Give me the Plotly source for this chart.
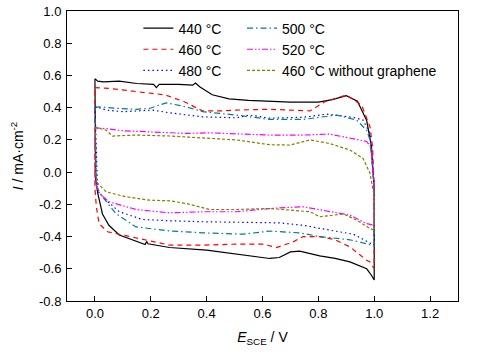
import plotly.graph_objects as go

# ---------------- data (E vs SCE / V, current density / mA cm^-2) ----------------
e_440 = [0.0, 0.01, 0.03, 0.087, 0.15, 0.21, 0.22, 0.23, 0.30, 0.35, 0.36, 0.375, 0.42, 0.48, 0.55, 0.625, 0.70, 0.80, 0.85, 0.90, 0.94, 0.973, 0.99, 1.0, 1.0,
         0.99, 0.973, 0.913, 0.86, 0.805, 0.733, 0.70, 0.66, 0.626, 0.53, 0.40, 0.267, 0.19, 0.185, 0.18, 0.087, 0.05, 0.027, 0.01, 0.003, 0.0]
i_440 = [0.58, 0.565, 0.56, 0.565, 0.55, 0.545, 0.525, 0.545, 0.545, 0.54, 0.553, 0.53, 0.48, 0.455, 0.445, 0.44, 0.435, 0.435, 0.45, 0.474, 0.44, 0.32, 0.16, -0.10, -0.67,
         -0.64, -0.60, -0.557, -0.535, -0.52, -0.49, -0.495, -0.53, -0.536, -0.515, -0.484, -0.468, -0.445, -0.43, -0.45, -0.39, -0.33, -0.26, -0.13, -0.05, 0.58]

e_460 = [0.0, 0.05, 0.147, 0.25, 0.32, 0.385, 0.45, 0.505, 0.626, 0.77, 0.823, 0.90, 0.955, 0.985, 0.994, 1.0, 1.0,
         0.985, 0.973, 0.913, 0.86, 0.805, 0.745, 0.71, 0.65, 0.60, 0.506, 0.386, 0.267, 0.147, 0.045, 0.015, 0.005, 0.0, 0.0]
i_460 = [0.525, 0.52, 0.50, 0.48, 0.437, 0.38, 0.38, 0.385, 0.39, 0.38, 0.437, 0.478, 0.416, 0.28, 0.157, -0.10, -0.60,
         -0.557, -0.547, -0.464, -0.42, -0.40, -0.40, -0.433, -0.468, -0.447, -0.447, -0.453, -0.453, -0.41, -0.37, -0.32, -0.215, -0.10, 0.525]

e_480 = [0.0, 0.04, 0.1, 0.207, 0.267, 0.386, 0.506, 0.554, 0.626, 0.745, 0.83, 0.924, 0.96, 0.985, 1.0, 1.0,
         0.985, 0.925, 0.84, 0.745, 0.66, 0.506, 0.386, 0.267, 0.17, 0.087, 0.04, 0.01, 0.0]
i_480 = [0.41, 0.385, 0.375, 0.385, 0.368, 0.343, 0.337, 0.354, 0.335, 0.34, 0.36, 0.34, 0.323, 0.24, -0.10, -0.45,
         -0.44, -0.385, -0.36, -0.33, -0.315, -0.313, -0.308, -0.302, -0.294, -0.246, -0.174, -0.12, 0.41]

e_500 = [0.0, 0.015, 0.087, 0.147, 0.195, 0.255, 0.327, 0.386, 0.506, 0.626, 0.745, 0.865, 0.937, 0.973, 0.985, 1.0, 1.0,
         0.985, 0.913, 0.805, 0.733, 0.66, 0.626, 0.53, 0.386, 0.267, 0.147, 0.075, 0.027, 0.005, 0.0]
i_500 = [0.40, 0.405, 0.395, 0.39, 0.395, 0.43, 0.405, 0.375, 0.354, 0.327, 0.327, 0.354, 0.323, 0.26, 0.20, -0.10, -0.46,
         -0.45, -0.42, -0.40, -0.377, -0.37, -0.366, -0.385, -0.377, -0.365, -0.34, -0.257, -0.153, -0.09, 0.40]

e_520 = [0.0, 0.04, 0.1, 0.207, 0.327, 0.41, 0.506, 0.626, 0.745, 0.84, 0.937, 0.973, 0.99, 1.0, 1.0,
         0.973, 0.913, 0.84, 0.745, 0.66, 0.626, 0.506, 0.386, 0.267, 0.147, 0.05, 0.015, 0.0, 0.0]
i_520 = [0.275, 0.27, 0.257, 0.25, 0.24, 0.244, 0.236, 0.23, 0.23, 0.236, 0.203, 0.19, 0.15, -0.10, -0.33,
         -0.32, -0.267, -0.246, -0.215, -0.222, -0.226, -0.246, -0.246, -0.253, -0.232, -0.184, -0.13, -0.05, 0.275]

e_460ng = [0.0, 0.04, 0.063, 0.147, 0.267, 0.386, 0.506, 0.626, 0.70, 0.77, 0.84, 0.913, 0.96, 0.985, 1.0, 1.0,
           0.985, 0.937, 0.89, 0.805, 0.77, 0.70, 0.626, 0.506, 0.41, 0.327, 0.267, 0.195, 0.11, 0.04, 0.01, 0.0, 0.0]
i_460ng = [0.28, 0.26, 0.224, 0.23, 0.224, 0.213, 0.20, 0.17, 0.168, 0.20, 0.178, 0.137, 0.085, -0.008, -0.15, -0.36,
           -0.35, -0.298, -0.26, -0.277, -0.246, -0.236, -0.226, -0.232, -0.232, -0.195, -0.178, -0.174, -0.153, -0.122, -0.07, 0.0, 0.28]

x_ticks = [0.0, 0.2, 0.4, 0.6, 0.8, 1.0, 1.2]
y_ticks = [-0.8, -0.6, -0.4, -0.2, 0.0, 0.2, 0.4, 0.6, 0.8, 1.0]

FONT = "Arial, 'Liberation Sans', sans-serif"

series = [
    ("440 °C", e_440, i_440, "#000000", "solid", "legend"),
    ("460 °C", e_460, i_460, "#ff0000", "5px,4px", "legend"),
    ("480 °C", e_480, i_480, "#0000ff", "1.5px,3px", "legend"),
    ("500 °C", e_500, i_500, "#008080", "6px,3px,1.5px,3px", "legend2"),
    ("520 °C", e_520, i_520, "#ff00ff", "6px,2px,1.5px,2px,1.5px,2px", "legend2"),
    ("460 °C without graphene", e_460ng, i_460ng, "#808000", "3px,2px", "legend2"),
]

fig = go.Figure()
for name, xs, ys, col, dash, lg in series:
    fig.add_trace(go.Scatter(x=xs, y=ys, mode="lines", name=name,
                             line=dict(color=col, width=1.2, dash=dash),
                             legend=lg))

legend_common = dict(font=dict(family=FONT, size=14, color="#000"),
                     bgcolor="rgba(0,0,0,0)", yanchor="top", xanchor="left",
                     tracegroupgap=0, itemwidth=30)

fig.update_layout(
    width=490, height=360,
    margin=dict(l=67, r=32, t=11, b=59),
    paper_bgcolor="white", plot_bgcolor="white",
    font=dict(family=FONT, size=13, color="#000"),
    legend=dict(x=0.1826, y=0.995, **legend_common),
    legend2=dict(x=0.4476, y=0.995, **legend_common),
    xaxis=dict(range=[-0.1, 1.3], tickvals=x_ticks, ticktext=[f"{v:.1f}" for v in x_ticks],
               ticks="inside", ticklen=5, tickwidth=1, tickcolor="#000",
               showline=True, linecolor="#000", linewidth=1, mirror=True,
               showgrid=False, zeroline=False, automargin=False, ticklabeloverflow="allow",
               title=dict(text="<i>E</i><sub>SCE</sub> / V", font=dict(size=14), standoff=12),
               tickfont=dict(size=13)),
    yaxis=dict(range=[-0.8, 1.0], tickvals=y_ticks, ticktext=[f"{v:.1f}" for v in y_ticks],
               ticks="inside", ticklen=5, tickwidth=1, tickcolor="#000",
               showline=True, linecolor="#000", linewidth=1, mirror=True,
               showgrid=False, zeroline=False, automargin=False, ticklabelstandoff=2,
               ticklabeloverflow="allow",
               title=dict(text="<i>I</i> / mA·cm<sup>-2</sup>", font=dict(size=14), standoff=12),
               tickfont=dict(size=13)),
)

fig.write_html("out.html", config={"displayModeBar": False},
               post_script="document.body.style.margin='0';")
